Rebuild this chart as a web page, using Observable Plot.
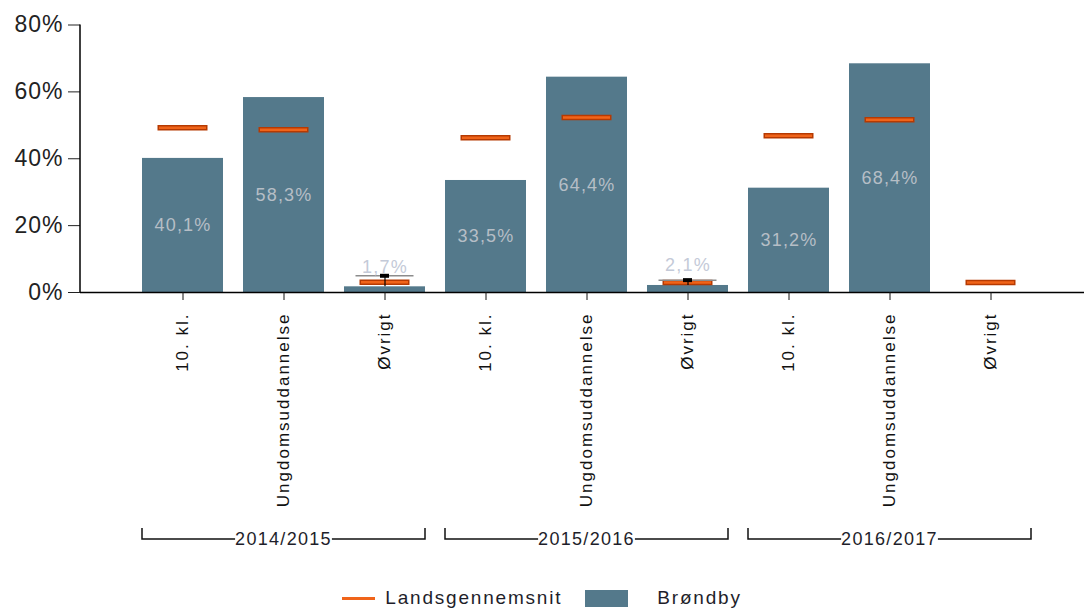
<!DOCTYPE html>
<html>
<head>
<meta charset="utf-8">
<script src="https://cdn.jsdelivr.net/npm/d3@7"></script>
<script src="https://cdn.jsdelivr.net/npm/@observablehq/plot@0.6"></script>
<style>
  html, body { margin: 0; padding: 0; background: #fff; }
  body { font-family: "Liberation Sans", Arial, sans-serif; width: 1084px; height: 608px; overflow: hidden; }
  #chart svg { display: block; }
  g[aria-label="x-axis tick label"] text { letter-spacing: 2px; }
  g[aria-label="y-axis tick label"] text { letter-spacing: 1px; }
  g[aria-label="text"] text { letter-spacing: 1.2px; }
  #legend { display: flex; justify-content: center; align-items: center; height: 28px; margin-top: 4px;
            font-size: 19px; letter-spacing: 1.8px; color: #1e1e2a; }
  #legend .line { display: inline-block; width: 33px; height: 3px; }
  #legend .swatch { display: inline-block; width: 43px; height: 17px; }
</style>
</head>
<body>
<div id="chart"></div>
<div id="legend"></div>
<script>
// ---- data ----
const groups = ["2014/2015", "2015/2016", "2016/2017"];
const categories = ["10. kl.", "Ungdomsuddannelse", "Øvrigt"];
const seriesNames = ["Landsgennemsnit", "Brøndby"];
// Brøndby (bars), per group, per category (%)
const brondby = [
  [40.1, 58.3, 1.7],
  [33.5, 64.4, 2.1],
  [31.2, 68.4, null]
];
// Landsgennemsnit (orange markers), per group, per category (%)
const lands = [
  [49.3, 48.7, 3.1],
  [46.3, 52.3, 3.0],
  [46.9, 51.7, 3.0]
];
// upper whisker of the small Øvrigt bars (%)
const whiskerTop = [
  [null, null, 5.0],
  [null, null, 3.7],
  [null, null, null]
];
const yTicks = [0, 20, 40, 60, 80];

// ---- colours ----
const barColor = "#54798b";
const orange = "#f0641a";
const orangeDark = "#b63a02";

const rows = [];
groups.forEach((g, gi) => categories.forEach((c, ci) => rows.push({
  key: g + "|" + c, group: g, category: c,
  brondby: brondby[gi][ci], lands: lands[gi][ci], top: whiskerTop[gi][ci]
})));
const fmt = v => v.toFixed(1).replace(".", ",") + "%";
const inside = rows.filter(r => r.brondby != null && r.brondby >= 5);
const outside = rows.filter(r => r.brondby != null && r.brondby < 5);
const whisk = rows.filter(r => r.top != null);

const H = 580;
const chart = Plot.plot({
  width: 1084,
  height: H,
  marginLeft: 80,
  marginRight: 0,
  marginTop: 24.5,
  marginBottom: H - 292,
  style: { fontFamily: "'Liberation Sans', Arial, sans-serif", background: "#fff" },
  x: { type: "band", domain: rows.map(r => r.key), padding: 0.2, insetLeft: 39.5, insetRight: 30 },
  y: { domain: [0, 80] },
  marks: [
    Plot.barY(rows, { x: "key", y: "brondby", fill: barColor }),
    Plot.tickY(rows, { x: "key", y: "lands", stroke: orangeDark, strokeWidth: 5.5, insetLeft: 15.5, insetRight: 15.5 }),
    Plot.tickY(rows, { x: "key", y: "lands", stroke: orange, strokeWidth: 2.5, insetLeft: 17, insetRight: 17 }),
    Plot.tickY(whisk, { x: "key", y: "top", stroke: "#8c8c8c", strokeWidth: 1.5, insetLeft: 11.5, insetRight: 11.5 }),
    Plot.ruleX(whisk, { x: "key", y1: "brondby", y2: "top", stroke: "#000", strokeWidth: 1.2 }),
    Plot.tickY(whisk, { x: "key", y: "top", stroke: "#000", strokeWidth: 4, insetLeft: 36, insetRight: 36 }),
    Plot.text(inside, { x: "key", y: r => r.brondby / 2, text: r => fmt(r.brondby), fill: "#b6bec6", fontSize: 18 }),
    Plot.text(outside, { x: "key", y: "brondby", dy: -20, text: r => fmt(r.brondby), fill: "#c4cad8", fontSize: 18 }),
    Plot.ruleY([0], { stroke: "#000", strokeWidth: 1.5 }),
    Plot.axisX({ tickFormat: k => k.split("|")[1], tickRotate: -90, tickSize: 8, tickPadding: 12,
                 fontSize: 17, color: "#111", label: null }),
    Plot.axisY({ ticks: yTicks, tickFormat: d => d + "%", tickSize: 12, tickPadding: 5,
                 fontSize: 23, color: "#222", label: null })
  ]
});
document.getElementById("chart").appendChild(chart);

// y-axis domain line and group brackets drawn from Plot's own scales
const xs = chart.scale("x");
const ys = chart.scale("y");
const svg = d3.select(chart);
svg.append("line")
  .attr("x1", 80).attr("x2", 80)
  .attr("y1", ys.apply(yTicks[0])).attr("y2", ys.apply(yTicks[yTicks.length - 1]))
  .attr("stroke", "#000").attr("stroke-width", 1.5);

const bracketY = 539, bracketH = 11;
const gBr = svg.append("g");
groups.forEach(g => {
  const keys = rows.filter(r => r.group === g).map(r => r.key);
  const x0 = xs.apply(keys[0]);
  const x1 = xs.apply(keys[keys.length - 1]) + xs.bandwidth;
  const cx = (x0 + x1) / 2;
  const t = gBr.append("text")
    .attr("x", cx).attr("y", bracketY + 1)
    .attr("text-anchor", "middle").attr("dominant-baseline", "middle")
    .attr("font-size", 18).attr("letter-spacing", "1.3px")
    .attr("fill", "#1e1e2a")
    .text(g);
  const half = t.node().getComputedTextLength() / 2;
  gBr.append("path")
    .attr("d", `M${x0},${bracketY - bracketH}V${bracketY}H${cx - half}M${cx + half},${bracketY}H${x1}V${bracketY - bracketH}`)
    .attr("fill", "none").attr("stroke", "#111").attr("stroke-width", 1.5);
});

// legend
const legend = document.getElementById("legend");
legend.innerHTML =
  `<span class="line" style="background:${orange}"></span>` +
  `<span style="margin-left:10px">${seriesNames[0]}</span>` +
  `<span class="swatch" style="background:${barColor};margin-left:23px"></span>` +
  `<span style="margin-left:29px">${seriesNames[1]}</span>`;
</script>
</body>
</html>
